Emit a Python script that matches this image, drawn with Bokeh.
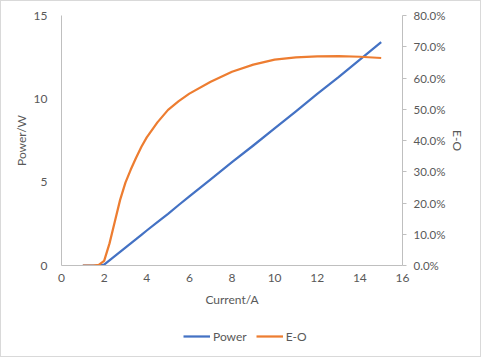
from bokeh.plotting import figure
from bokeh.models import (LinearAxis, Range1d, NumeralTickFormatter, Legend, LegendItem,
                          FixedTicker, ColumnDataSource)
from bokeh.layouts import column
from bokeh.embed import file_html
from bokeh.resources import INLINE

current = [1, 1.5, 1.75, 2, 2.25, 2.5, 2.75, 3, 3.25, 3.5, 3.75, 4, 4.5, 5, 5.5, 6, 7, 8,
           9, 10, 11, 12, 13, 14, 15]
power = [0, 0, 0, 0.05, 0.31, 0.56, 0.82, 1.07, 1.33, 1.58, 1.84, 2.1, 2.6, 3.1, 3.63,
         4.15, 5.17, 6.2, 7.2, 8.23, 9.25, 10.3, 11.3, 12.35, 13.4]
eo = [0, 0, 0.002, 0.015, 0.07, 0.14, 0.21, 0.265, 0.307, 0.345, 0.38, 0.41, 0.458,
      0.498, 0.526, 0.55, 0.588, 0.62, 0.643, 0.659, 0.666, 0.669, 0.67, 0.668, 0.664]

x_ticks = [0, 2, 4, 6, 8, 10, 12, 14, 16]
y_ticks = [0, 5, 10, 15]
eo_ticks = [0, 0.1, 0.2, 0.3, 0.4, 0.5, 0.6, 0.7, 0.8]

FONT = "Lato"
TXT = "#595959"
AX = "#bfbfbf"
BLUE = "#4472C4"
ORANGE = "#ED7D31"

p = figure(width=479, height=308, output_backend="svg", toolbar_location=None,
           x_range=Range1d(0, 16), y_range=Range1d(0, 15),
           min_border_left=60, min_border_right=78, min_border_top=14, min_border_bottom=43)
p.extra_y_ranges = {"eo": Range1d(0, 0.8)}
p.grid.visible = False
p.outline_line_color = None

src = ColumnDataSource(dict(x=current, p=power, e=eo))
p.line("x", "p", source=src, line_color=BLUE, line_width=2.25, line_join="round")
p.line("x", "e", source=src, line_color=ORANGE, line_width=2.25, line_join="round",
       y_range_name="eo")

def style(ax, label, standoff, tick_out, size="12px"):
    ax.axis_line_color = AX
    ax.major_tick_line_color = AX
    ax.major_tick_out = tick_out
    ax.major_tick_in = 0
    ax.minor_tick_line_color = None
    ax.major_label_text_font = FONT
    ax.major_label_text_font_size = size
    ax.major_label_text_color = TXT
    ax.axis_label = label
    ax.axis_label_text_font = FONT
    ax.axis_label_text_font_size = "12px"
    ax.axis_label_text_font_style = "normal"
    ax.axis_label_text_color = TXT
    ax.major_label_standoff = standoff

xa = p.xaxis[0]
style(xa, "Current/A", 8, 0)
xa.major_tick_line_color = None
xa.ticker = FixedTicker(ticks=x_ticks)
xa.axis_label_standoff = 7

ya = p.yaxis[0]
style(ya, "Power/W", 14, 0)
ya.major_tick_line_color = None
ya.ticker = FixedTicker(ticks=y_ticks)
ya.axis_label_standoff = 2

ra = LinearAxis(y_range_name="eo")
style(ra, "E-O", 7, 4, size="11.5px")
ra.ticker = FixedTicker(ticks=eo_ticks)
ra.formatter = NumeralTickFormatter(format="0.0%")
ra.axis_label_standoff = 2
p.add_layout(ra, "right")

# legend strip below the chart
lg = figure(width=479, height=47, output_backend="svg", toolbar_location=None,
            x_range=Range1d(100, 101), y_range=Range1d(100, 101),
            x_axis_location=None, y_axis_location=None,
            min_border_left=0, min_border_right=0, min_border_top=0, min_border_bottom=0)
lg.grid.visible = False
lg.outline_line_color = None
l1 = lg.line("x", "p", source=src, line_color=BLUE, line_width=2.25)
l2 = lg.line("x", "e", source=src, line_color=ORANGE, line_width=2.25)
legend = Legend(items=[LegendItem(label="Power", renderers=[l1]),
                       LegendItem(label="E-O", renderers=[l2])],
                orientation="horizontal", location=(122, 10),
                border_line_color=None, background_fill_alpha=0,
                label_text_font=FONT, label_text_font_size="12px", label_text_color=TXT,
                glyph_width=27, label_standoff=3, spacing=9, padding=0, margin=0)
lg.add_layout(legend, "center")

layout = column(p, lg, spacing=0)
layout.styles = {"border": "1px solid #d9d9d9"}

open("out.html", "w").write(file_html(layout, INLINE))
